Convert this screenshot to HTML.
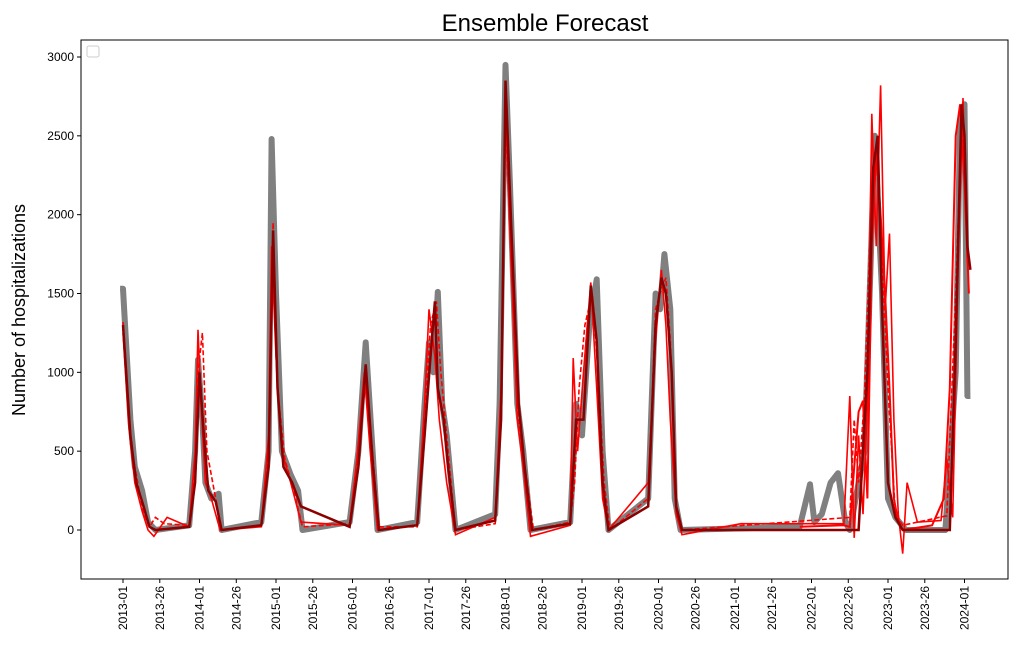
<!DOCTYPE html>
<html><head><meta charset="utf-8"><style>
body{margin:0;background:#fff;font-family:"Liberation Sans",sans-serif}
svg text{font-family:"Liberation Sans",sans-serif}
</style></head><body>
<svg id="chart" width="1020" height="656" xmlns="http://www.w3.org/2000/svg">
<rect x="0" y="0" width="1020" height="656" fill="#fff"/>
<text x="545" y="31" font-size="24" text-anchor="middle">Ensemble Forecast</text>
<text transform="translate(25,310) rotate(-90)" font-size="18" text-anchor="middle">Number of hospitalizations</text>
<g id="plot"></g>
<rect x="81" y="40" width="927" height="539" fill="none" stroke="#000" stroke-width="1"/>
<rect x="87" y="46" width="12" height="11" rx="2" fill="#fff" stroke="#ccc"/>
</svg>
<script>
const yTicks=[0,500,1000,1500,2000,2500,3000];
const xTickLabels=["2013-01","2013-26","2014-01","2014-26","2015-01","2015-26","2016-01","2016-26","2017-01","2017-26","2018-01","2018-26","2019-01","2019-26","2020-01","2020-26","2021-01","2021-26","2022-01","2022-26","2023-01","2023-26","2024-01"];
const obsWeeks=[-2,0,5,8,13,17,22,45,49,51,54,56,60,65,67,94,99,101,104,108,114,119,122,154,160,165,169,173,200,205,208,211,214,217,220,226,253,256,260,263,268,272,277,304,308,312,317,322,326,330,357,362,365,368,372,375,379,460,467,470,475,481,486,491,494,504,511,516,520,525,532,559,566,569,572,574,576];
const obsValues=[1530,1530,700,400,250,50,0,30,500,1080,700,300,200,230,0,50,500,2480,1500,500,350,250,0,50,500,1190,600,0,50,800,1190,1000,1510,800,600,0,100,800,2950,2200,800,500,0,50,800,600,1300,1590,500,0,200,1500,1400,1750,1400,200,0,20,290,50,100,300,360,50,0,500,2500,1500,200,80,0,0,1000,2600,2700,850,850];
const dkWeeks=[0,5,9,14,18,22,45,49,52,55,58,63,67,94,99,102,105,109,115,121,154,160,165,170,174,200,205,209,212,214,218,221,226,253,257,260,264,269,273,278,304,308,313,318,322,326,330,357,362,366,369,373,376,380,500,506,510,513,516,520,525,530,562,566,570,572,574,576];
const dkValues=[1300,600,300,150,20,0,20,300,1000,600,250,180,0,30,400,1900,900,400,300,150,20,400,1050,400,0,30,600,1100,1450,900,700,400,0,60,700,2850,1900,800,400,0,40,700,700,1550,1200,300,0,150,1300,1600,1500,1000,150,0,0,1000,2300,2500,1400,300,80,0,0,1200,2700,2500,1800,1650];
const redWeeks=[0,4,8,13,17,21,30,45,49,51,53,56,60,66,94,99,101,104,108,114,121,154,159,164,168,173,200,205,208,212,215,220,226,253,257,260,263,268,272,277,304,306,309,313,318,322,326,330,357,362,366,369,372,376,380,420,490,494,497,500,503,506,509,512,515,518,521,524,527,530,533,540,556,560,564,568,571,574];
const redValues=[1250,650,300,120,0,-40,80,20,500,1270,800,300,200,0,20,600,1800,1100,500,300,50,30,450,1000,500,0,30,800,1400,1100,700,300,-30,80,900,2700,1900,700,400,-40,30,1090,500,1000,1570,900,200,0,300,1200,1650,1300,700,100,-30,40,40,850,-50,600,100,800,2640,1800,2820,1400,1880,700,100,-150,300,50,60,450,80,1800,2740,1700];
const red2Weeks=[460,490,494,497,500,503,506,509,512,515,518,521,524,527,530,550,558,562,566,569,572,575];
const red2Values=[20,30,20,400,750,820,200,1800,2400,2000,1500,900,200,50,0,30,200,900,2500,2700,2200,1500];
const dashWeeks=[0,5,9,14,18,22,28,45,49,51,54,57,62,67,94,99,102,105,110,116,122,154,160,165,170,174,200,205,209,213,216,221,226,253,257,260,264,269,274,279,304,307,310,314,319,323,327,331,357,362,365,369,372,376,380,494,497,500,504,508,512,516,520,525,530,560,566,570,573];
const dashValues=[1320,550,350,100,20,80,40,30,400,1000,1250,500,250,0,30,500,1950,900,450,250,20,40,500,950,450,20,20,700,1300,1450,1000,500,0,40,750,2600,1700,700,350,0,50,300,900,1300,1500,1000,300,0,200,1400,1500,1600,1200,150,0,80,700,300,850,1900,2400,1700,900,100,30,90,1500,2600,2200];
const x0=81,x1=1008,y0=579,y1=40;
function xs(w){return 123+w*76.5/52;}
function ys(v){return 530-v*(473/3000);}
const NS="http://www.w3.org/2000/svg";
const svg=document.getElementById('chart');
const plot=document.getElementById('plot');
function el(t,a,p){const e=document.createElementNS(NS,t);for(const k in a)e.setAttribute(k,a[k]);(p||svg).appendChild(e);return e;}
yTicks.forEach(v=>{
  const y=ys(v);
  const t=el('line',{x1:x0-4,x2:x0,y1:y,y2:y,stroke:'#000'});
  
  
  const l=el('text',{x:x0-7,y:y+4,'font-size':12,'text-anchor':'end'});
  l.textContent=v;
  
  
});
xTickLabels.forEach((s,i)=>{
  const yr=parseInt(s.slice(0,4)),wk=parseInt(s.slice(5));
  const x=xs((yr-2013)*52+wk-1);
  const t=el('line',{x1:x,x2:x,y1:y0,y2:y0+4,stroke:'#000'});
  
  
  const l=el('text',{transform:`translate(${x+4},${y0+7}) rotate(-90)`,'font-size':12,'text-anchor':'end'});
  l.textContent=s;
  
  
});
function path(ws,vs){return ws.map((w,i)=>(i?'L':'M')+xs(w).toFixed(1)+','+ys(vs[i]).toFixed(1)).join('');}
const g=el('g',{},plot);
const obs=el('path',{d:path(obsWeeks,obsValues),fill:'none',stroke:'#808080','stroke-width':6,'stroke-linejoin':'round'},g);


const dash=el('path',{d:path(dashWeeks,dashValues),fill:'none',stroke:'#ff0000','stroke-width':1.6,'stroke-dasharray':'5,2.5'},g);


const red=el('path',{d:path(redWeeks,redValues),fill:'none',stroke:'#ff0000','stroke-width':1.6},g);


const red2=el('path',{d:path(red2Weeks,red2Values),fill:'none',stroke:'#ff0000','stroke-width':2},g);


const dk=el('path',{d:path(dkWeeks,dkValues),fill:'none',stroke:'#8b0000','stroke-width':2.5},g);


</script>
</body></html>
